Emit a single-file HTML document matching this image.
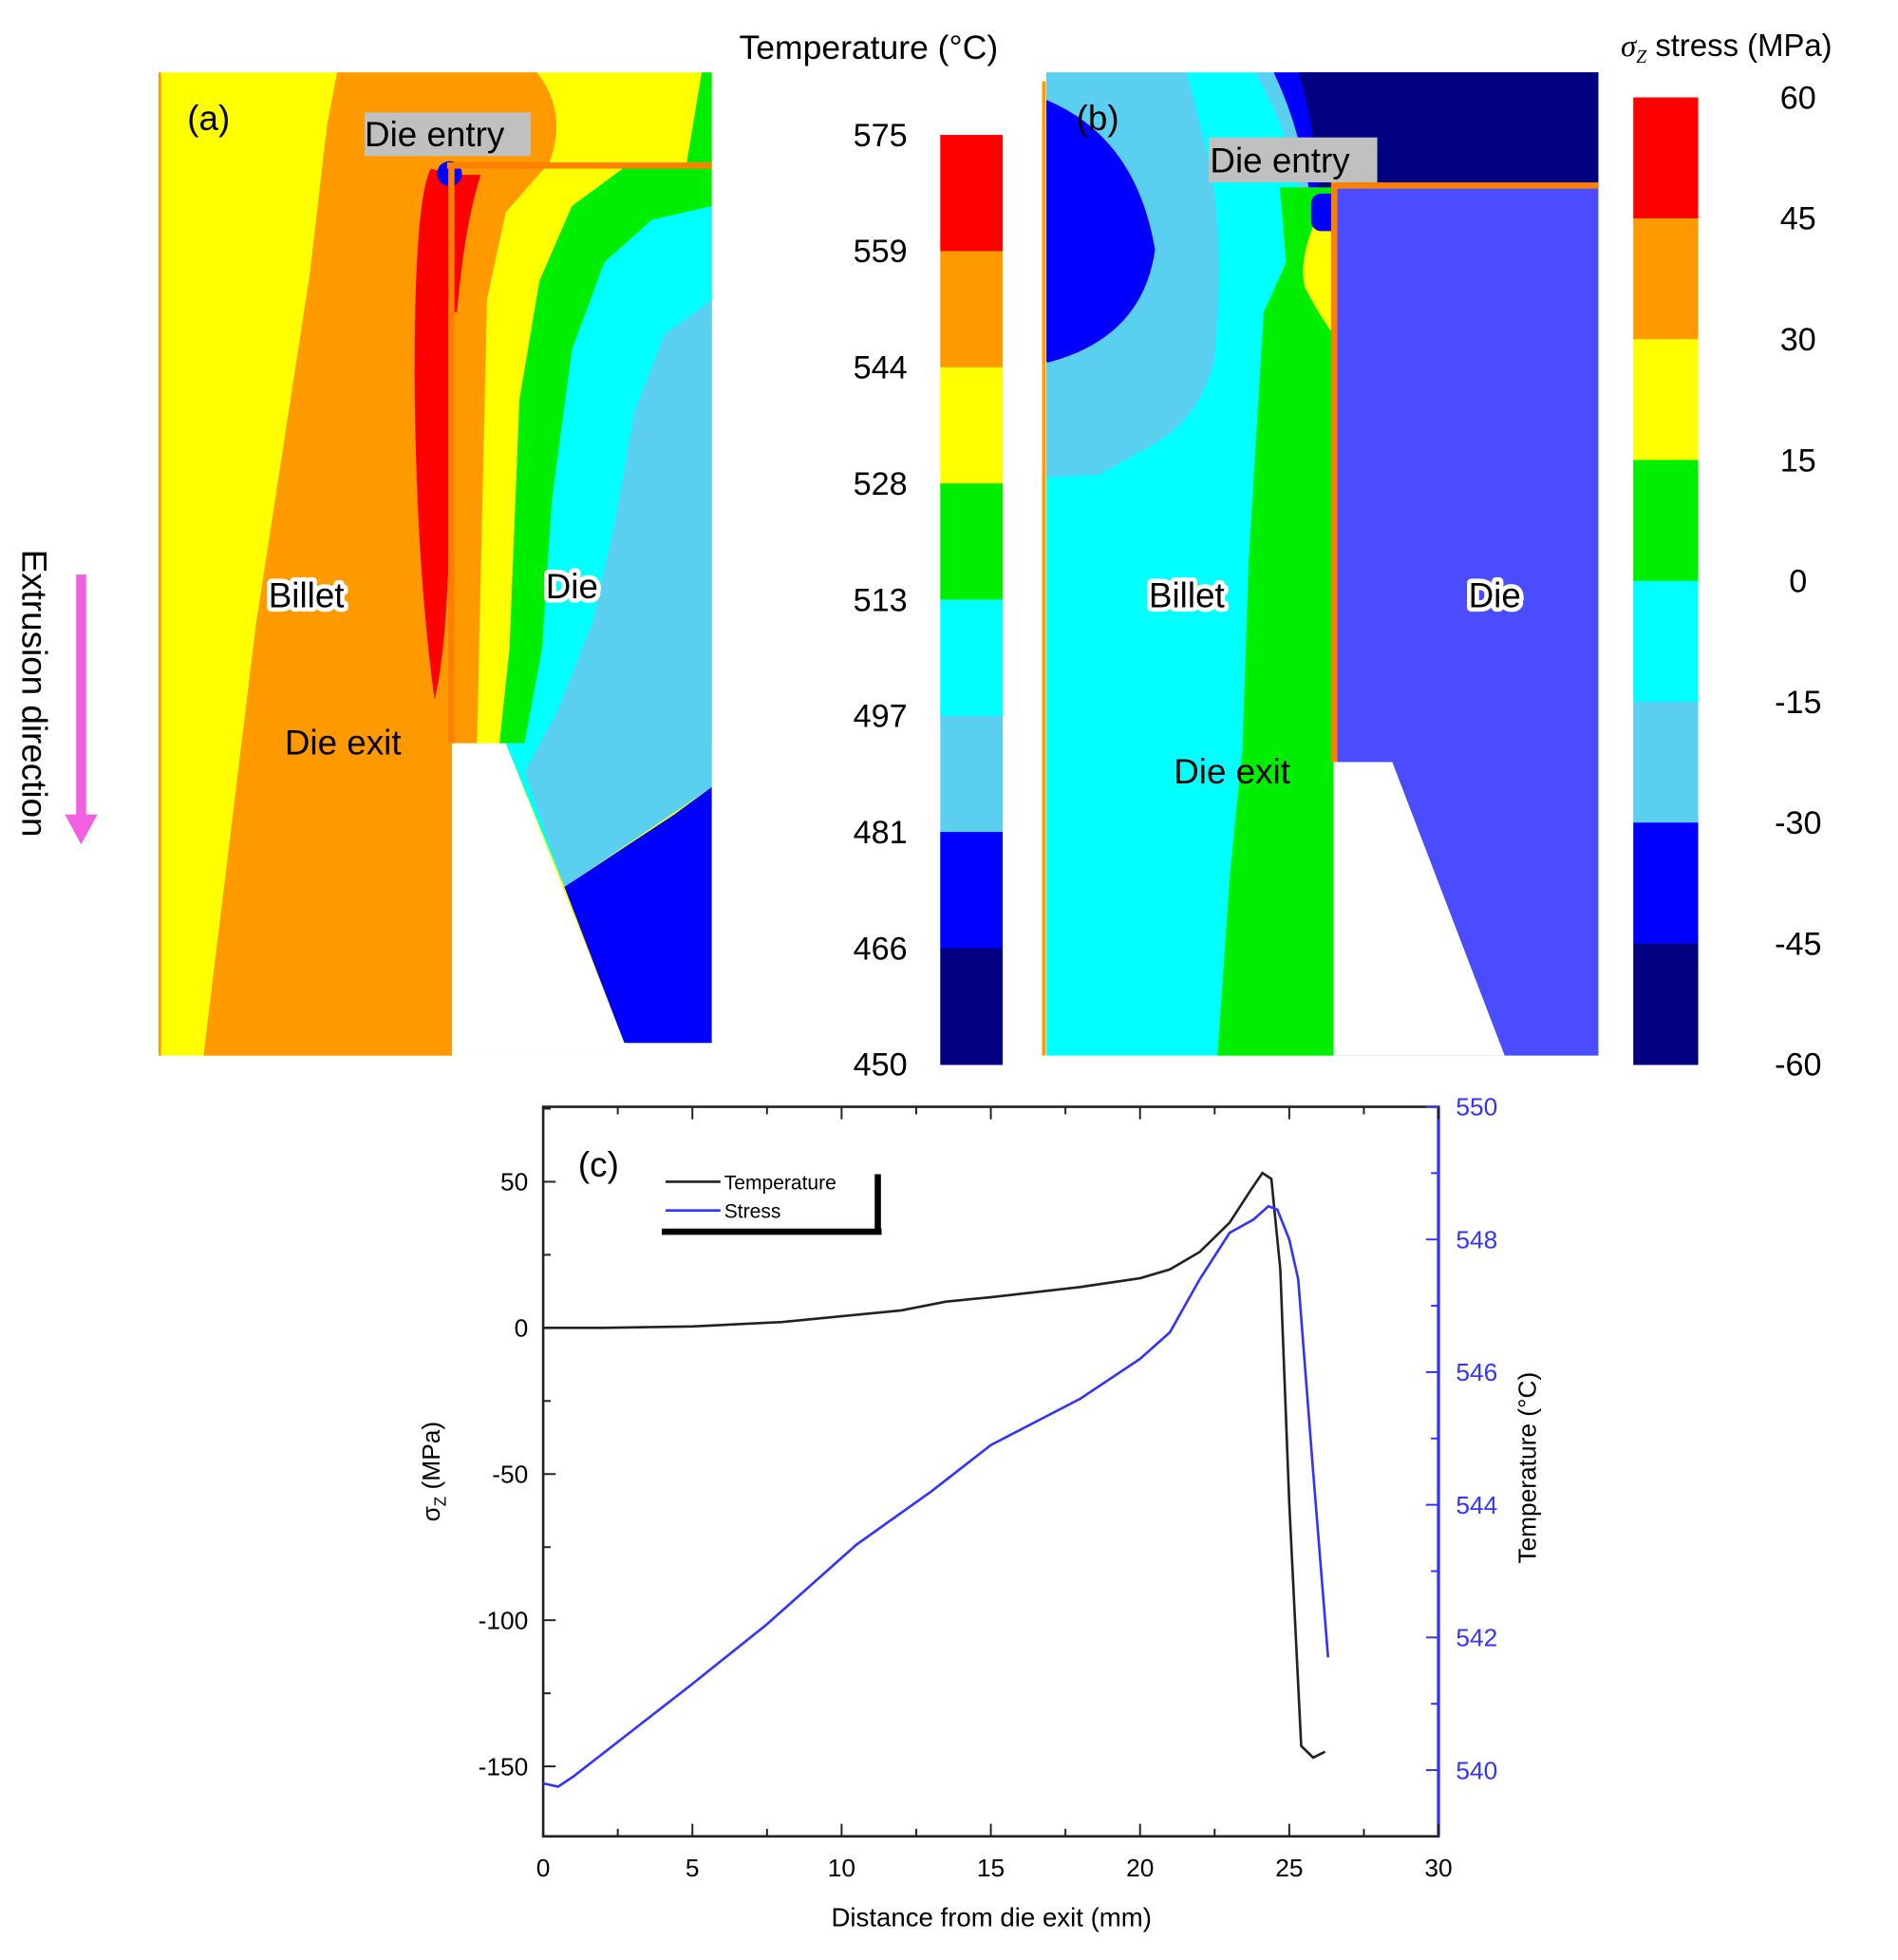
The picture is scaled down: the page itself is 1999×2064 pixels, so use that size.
<!DOCTYPE html>
<html><head><meta charset="utf-8"><style>
html,body{margin:0;padding:0;background:#fff;}
svg{display:block;font-family:"Liberation Sans",sans-serif;}
.lbl{font-size:28px;fill:#000;}
.halo{stroke:#fff;stroke-width:7;paint-order:stroke;stroke-linejoin:round;}
.tk{font-size:20px;}
</style></head><body>
<svg id="fig" width="1999" height="2064" viewBox="0 0 1520 1569" preserveAspectRatio="none">
<!-- Panel (a) -->
<g>
<rect x="128" y="58" width="442" height="787" fill="#ffff00"/>
<path d="M270,58 L430,58 Q455,90 440,130 L405,170 L390,240 L382,595 L362,595 L362,845 L163,845 L205,500 L248,220 L262,100 Z" fill="#ff9900"/>
<path d="M562,58 L570,58 L570,130 L550,130 Z" fill="#00ee00"/>
<path d="M570,130 L500,134 L458,165 L432,225 L416,320 L408,520 L400,595 L570,595 Z" fill="#00ee00"/>
<path d="M570,165 L522,176 L484,210 L458,280 L442,400 L434,520 L420,595 L405,595 L452,710 L570,630 Z" fill="#00ffff"/>
<path d="M570,240 L532,268 L508,330 L492,420 L474,500 L446,570 L420,618 L452,710 L540,650 L570,630 Z" fill="#5bcff0"/>
<path d="M452,710 L540,652 L570,630 L570,835 L500,835 Z" fill="#0000ff"/>
<path d="M362,595 L405,595 L500,835 L570,835 L570,845 L362,845 Z" fill="#fff"/>
<path d="M345,135 Q332,160 332,300 Q333,450 348,560 Q358,520 360,420 L362,140 Z" fill="#ff0000"/>
<path d="M362,140 L385,140 Q372,180 366,250 L362,250 Z" fill="#ff0000"/>
<circle cx="360" cy="139" r="10" fill="#0000ff"/>
<rect x="358" y="130" width="212" height="5" fill="#ff8000"/>
<rect x="359" y="130" width="5" height="465" fill="#ff8000"/>
<line x1="128" y1="58" x2="128" y2="845" stroke="#ff9900" stroke-width="2"/>
<rect x="292" y="90" width="133" height="35" fill="#c0c0c0"/>
<text x="292" y="117" class="lbl">Die entry</text>
<text x="150" y="104" class="lbl">(a)</text>
<text x="215" y="486" class="lbl halo">Billet</text>
<text x="437" y="479" class="lbl halo">Die</text>
<text x="228" y="604" class="lbl">Die exit</text>
</g>
<!-- Extrusion direction -->
<text transform="translate(18,555) rotate(90)" text-anchor="middle" class="lbl">Extrusion direction</text>
<g>
<rect x="61" y="460" width="8" height="195" fill="#f060e0"/>
<path d="M52,652 L78,652 L65,676 Z" fill="#f060e0"/>
</g>
<!-- Colorbar a -->
<text x="592" y="47" font-size="27">Temperature (°C)</text>
<g id="cbA"></g>
<!-- Panel (b) -->
<g>
<rect x="838" y="58" width="442" height="787" fill="#00ffff"/>
<path d="M838,58 L950,58 Q962,100 972,150 Q980,210 972,290 Q960,335 925,355 L880,380 L838,382 Z" fill="#5bcff0"/>
<path d="M838,80 Q910,110 925,200 Q915,270 840,290 L838,290 Z" fill="#0000ff"/>
<path d="M1005,58 L1280,58 L1280,150 L1040,150 Q1030,100 1005,58 Z" fill="#5bcff0"/>
<path d="M1020,58 L1280,58 L1280,150 L1048,150 Q1040,100 1020,58 Z" fill="#0000ff"/>
<path d="M1040,58 L1280,58 L1280,150 L1056,150 Q1052,100 1040,58 Z" fill="#000080"/>
<path d="M1025,150 L1068,150 L1068,845 L975,845 L985,700 L995,600 L1000,450 L1012,250 L1030,210 Z" fill="#00ee00"/>
<path d="M1052,180 Q1040,210 1045,230 Q1055,250 1066,265 L1066,180 Z" fill="#ffff00"/>
<rect x="1050" y="155" width="30" height="30" rx="8" fill="#0000ff"/>
<rect x="1068" y="150" width="212" height="695" fill="#4b4bff"/>
<path d="M1068,610 L1115,610 L1205,845 L1068,845 Z" fill="#fff"/>
<rect x="1066" y="146" width="214" height="5" fill="#ff8000"/>
<rect x="1066" y="146" width="5" height="464" fill="#ff8000"/>
<line x1="836" y1="65" x2="836" y2="845" stroke="#ff9900" stroke-width="3"/>
<rect x="968" y="110" width="135" height="36" fill="#c0c0c0"/>
<text x="969" y="138" class="lbl">Die entry</text>
<text x="862" y="104" class="lbl">(b)</text>
<text x="920" y="486" class="lbl halo">Billet</text>
<text x="1176" y="486" class="lbl halo">Die</text>
<text x="940" y="627" class="lbl">Die exit</text>
</g>
<text x="1298" y="45" font-size="25"><tspan font-style="italic" font-family="Liberation Serif">σ</tspan><tspan font-size="15" dy="5" font-style="italic" font-family="Liberation Serif">Z</tspan><tspan dy="-5"> stress (MPa)</tspan></text>
<g id="cbB"></g>
<!-- Chart c -->
<g id="chart"></g>
</svg>
<script>
const NS="http://www.w3.org/2000/svg";
function mk(tag,attrs,parent,txt){const e=document.createElementNS(NS,tag);for(const k in attrs)e.setAttribute(k,attrs[k]);if(txt!==undefined)e.textContent=txt;parent.appendChild(e);return e;}
// colorbars
const cbColors=["#ff0000","#ff9900","#ffff00","#00ee00","#00ffff","#5bcff0","#0000ff","#000080"];
const tempTicks=["575","559","544","528","513","497","481","466","450"];
const stressTicks=["60","45","30","15","0","-15","-30","-45","-60"];
function colorbar(g,x,w,y0,y1,ticks,lx){
  const h=(y1-y0)/cbColors.length;
  cbColors.forEach((c,i)=>{const r=mk('rect',{x:x,y:y0+i*h,width:w,height:h+0.5,fill:c},g);
    
    });
  ticks.forEach((t,i)=>{const tx=mk('text',{x:lx,y:y0+i*h+9,'text-anchor':'middle','font-size':26},g,t);
    
    });
}
colorbar(document.getElementById('cbA'),753,50,108,852,tempTicks,705);
colorbar(document.getElementById('cbB'),1308,52,78,852,stressTicks,1440);

// chart data
const xTicks=[0,5,10,15,20,25,30];
const leftTicks=[50,0,-50,-100,-150];
const rightTicks=[540,542,544,546,548,550];
const blackX=[0,2,5,8,10,12,13.5,15,18,20,21,22,23,23.7,24.1,24.4,24.7,25,25.4,25.8,26.2];
const blackY=[0,0,0.5,2,4,6,9,10.5,14,17,20,26,36,47,53,51,20,-60,-143,-147,-145];
const blueX=[0,0.5,1,3,5,7.5,10,10.5,13,15,18,20,21,22,23,23.8,24.3,24.6,25,25.3,25.8,26.3];
const blueY=[539.8,539.75,539.9,540.6,541.3,542.2,543.2,543.4,544.2,544.9,545.6,546.2,546.6,547.4,548.1,548.3,548.5,548.45,548.0,547.4,544.5,541.7];

const L=435,R=1152,T=886,B=1470;
const xS=v=>L+(v-0)/30*(R-L);
const yL=v=>1063-(v/50)*117;
const yR=v=>886+(550-v)/10*531;
const g=document.getElementById('chart');
const frame=mk('rect',{x:L,y:T,width:R-L,height:B-T,fill:'none',stroke:'#222','stroke-width':2},g);


mk('line',{x1:R,y1:T,x2:R,y2:B,stroke:'#3333ff','stroke-width':2.5},g);
for(let v=0;v<=30;v+=2.5){const len=(v%5===0)?10:6;
  mk('line',{x1:xS(v),y1:B,x2:xS(v),y2:B-len,stroke:'#222','stroke-width':1.5},g);
  mk('line',{x1:xS(v),y1:T,x2:xS(v),y2:T+len,stroke:'#222','stroke-width':1.5},g);}
xTicks.forEach(v=>{const t=mk('text',{x:xS(v),y:B+32,'text-anchor':'middle',class:'tk'},g,String(v));
  
  });
for(let v=-150;v<=75;v+=25){const len=(v%50===0)?10:6;
  mk('line',{x1:L,y1:yL(v),x2:L+len,y2:yL(v),stroke:'#222','stroke-width':1.5},g);}
leftTicks.forEach(v=>{const t=mk('text',{x:L-12,y:yL(v)+7,'text-anchor':'end',class:'tk'},g,String(v));
  
  });
for(let v=540;v<=550;v+=1){const len=(v%2===0)?10:6;
  mk('line',{x1:R,y1:yR(v),x2:R-len,y2:yR(v),stroke:'#3333ff','stroke-width':1.5},g);}
rightTicks.forEach(v=>{const t=mk('text',{x:R+14,y:yR(v)+7,fill:'#3333ff',class:'tk'},g,String(v));
  
  });
const xt=mk('text',{x:794,y:1542,'text-anchor':'middle','font-size':21},g,'Distance from die exit (mm)');


const yt=mk('text',{transform:'translate(352,1178) rotate(-90)','text-anchor':'middle','font-size':20},g);


mk('tspan',{},yt,'σ');mk('tspan',{'font-size':13,dy:5},yt,'Z');mk('tspan',{dy:-5},yt,' (MPa)');
const rt=mk('text',{transform:'translate(1230,1175) rotate(-90)','text-anchor':'middle','font-size':20},g,'Temperature (°C)');


const cl=mk('text',{x:463,y:942,'font-size':28},g,'(c)');


const pb=mk('polyline',{points:blackX.map((x,i)=>xS(x)+','+yL(blackY[i])).join(' '),fill:'none',stroke:'#222','stroke-width':2},g);


const pu=mk('polyline',{points:blueX.map((x,i)=>xS(x)+','+yR(blueY[i])).join(' '),fill:'none',stroke:'#3333ff','stroke-width':2},g);


const lg=mk('g',{},g);


mk('line',{x1:703,y1:940,x2:703,y2:988,stroke:'#000','stroke-width':5},lg);
mk('line',{x1:530,y1:986,x2:706,y2:986,stroke:'#000','stroke-width':5},lg);
mk('line',{x1:533,y1:946,x2:577,y2:946,stroke:'#222','stroke-width':2},lg);
mk('text',{x:580,y:952,'font-size':16},lg,'Temperature');
mk('line',{x1:533,y1:969,x2:577,y2:969,stroke:'#3333ff','stroke-width':2},lg);
mk('text',{x:580,y:975,'font-size':16},lg,'Stress');
</script>
</body></html>
